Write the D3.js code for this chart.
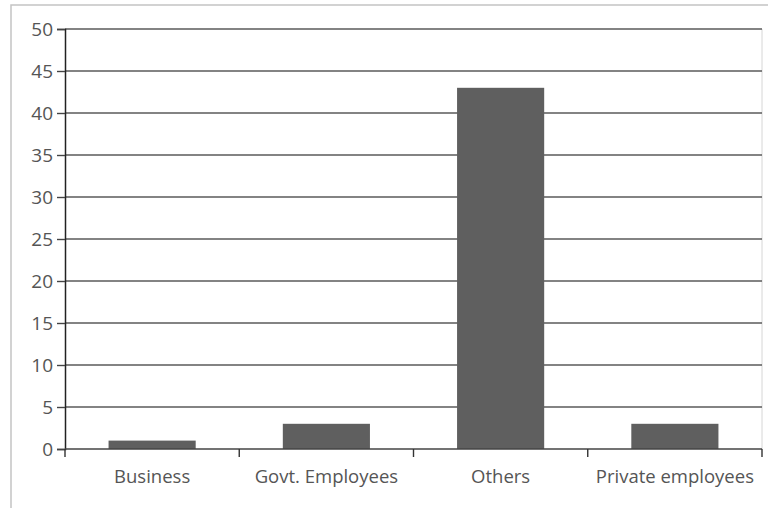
<!DOCTYPE html>
<html>
<head>
<meta charset="utf-8">
<script src="https://cdn.jsdelivr.net/npm/d3@7"></script>
<style>
  html, body { margin: 0; padding: 0; background: #fff; }
  svg { display: block; }
</style>
</head>
<body>
<svg id="chart" width="768" height="508"></svg>
<script>
// Occupation categories and counts
const categories = ["Business", "Govt. Employees", "Others", "Private employees"];
const values = [1, 3, 43, 3];
const yTicks = [0, 5, 10, 15, 20, 25, 30, 35, 40, 45, 50];

const svg = d3.select("#chart");
const margin = { left: 65, right: 6, top: 29, bottom: 59 };
const W = 768, H = 508;
const plotRight = W - margin.right;
const plotBottom = H - margin.bottom;

const font = "'Open Sans', 'Noto Sans', sans-serif";

// Outer chart frame (extends past the right/bottom edges)
svg.append("rect")
  .attr("x", 11).attr("y", 5)
  .attr("width", 800).attr("height", 600)
  .attr("fill", "none").attr("stroke", "#c4c4c4").attr("stroke-width", 1.5);

const x = d3.scaleBand().domain(categories).range([margin.left, plotRight]).paddingInner(0.5).paddingOuter(0.25);
const xb = d3.scaleBand().domain(categories).range([margin.left, plotRight]);
const y = d3.scaleLinear().domain([0, 50]).range([plotBottom, margin.top]);

// Light right border of plot area
svg.append("line")
  .attr("x1", plotRight).attr("x2", plotRight)
  .attr("y1", margin.top).attr("y2", plotBottom)
  .attr("stroke", "#d6d6d6").attr("stroke-width", 1);

// Horizontal gridlines
svg.append("g").selectAll("line")
  .data(yTicks.filter(d => d > 0))
  .join("line")
  .attr("x1", margin.left).attr("x2", plotRight)
  .attr("y1", d => y(d)).attr("y2", d => y(d))
  .attr("stroke", "#5a5a5a").attr("stroke-width", 1.6);

// Bars
svg.append("g").selectAll("rect")
  .data(categories)
  .join("rect")
  .attr("x", d => x(d))
  .attr("width", x.bandwidth())
  .attr("y", (d, i) => y(values[i]))
  .attr("height", (d, i) => y(0) - y(values[i]))
  .attr("fill", "#5f5f5f");

// Y axis
const yAxis = d3.axisLeft(y).tickValues(yTicks).tickSize(8).tickPadding(4);
const gy = svg.append("g").attr("transform", `translate(${margin.left},0)`).call(yAxis);
gy.select(".domain").attr("stroke", "#222").attr("stroke-width", 1.5);
gy.selectAll(".tick line").attr("stroke", "#444").attr("stroke-width", 1.4);
gy.selectAll(".tick text")
  .attr("font-family", font).attr("font-size", 19).attr("fill", "#555");

// X axis with ticks at category boundaries
svg.append("line")
  .attr("x1", margin.left).attr("x2", plotRight)
  .attr("y1", plotBottom).attr("y2", plotBottom)
  .attr("stroke", "#444").attr("stroke-width", 1.6);
const bounds = categories.map(c => xb(c)).concat([plotRight]);
svg.append("g").selectAll("line")
  .data(bounds)
  .join("line")
  .attr("x1", d => d).attr("x2", d => d)
  .attr("y1", plotBottom).attr("y2", plotBottom + 8)
  .attr("stroke", "#333").attr("stroke-width", 1.4);

svg.append("g").selectAll("text")
  .data(categories)
  .join("text")
  .attr("x", d => xb(d) + xb.bandwidth() / 2)
  .attr("y", plotBottom + 34)
  .attr("text-anchor", "middle")
  .attr("font-family", font).attr("font-size", 18.5).attr("fill", "#555")
  .text(d => d);
</script>
</body>
</html>
